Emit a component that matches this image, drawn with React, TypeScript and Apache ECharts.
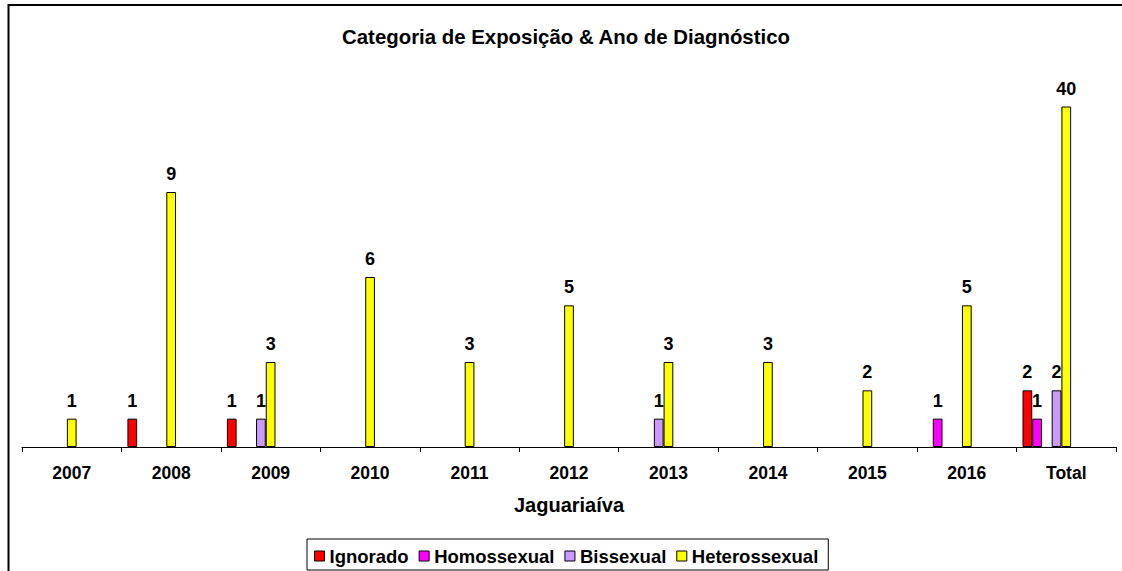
import React, { useEffect, useRef } from "react";
import * as echarts from "echarts";

const categories = ["2007", "2008", "2009", "2010", "2011", "2012", "2013", "2014", "2015", "2016", "Total"];
const ignorado = [null, 1, 1, null, null, null, null, null, null, null, 2];
const homossexual = [null, null, null, null, null, null, null, null, null, 1, 1];
const bissexual = [null, null, 1, null, null, null, 1, null, null, null, 2];
const heterossexual = [1, 9, 3, 6, 3, 5, 3, 3, 2, 5, 40];
const emptySlot = [null, null, null, null, null, null, null, null, null, null, null];

const FONT = 'Arial, "Liberation Sans", Helvetica, sans-serif';

export default function App() {
  const ref = useRef<HTMLDivElement>(null);
  useEffect(() => {
    if (!ref.current) return;
    const chart = echarts.init(ref.current, null, { renderer: "svg" });
    const bar = (name: string, data: (number | null)[], color: string, showLabel: boolean) => ({
      name,
      type: "bar",
      data,
      barGap: "0%",
      barCategoryGap: "12%",
      itemStyle: { color, borderColor: "#000", borderWidth: 1 },
      label: {
        show: showLabel,
        position: "top",
        distance: 9,
        color: "#000",
        fontWeight: "bold",
        fontSize: 18,
        fontFamily: FONT,
      },
      emphasis: { disabled: true },
    });
    chart.setOption({
      animation: false,
      backgroundColor: "#fff",
      title: {
        text: "Categoria de Exposição & Ano de Diagnóstico",
        left: 566,
        top: 27,
        padding: 0,
        textAlign: "center",
        textStyle: { fontFamily: FONT, fontWeight: "bold", fontSize: 20.4, color: "#000" },
      },
      legend: {
        data: ["Ignorado", "Homossexual", "Bissexual", "Heterossexual"],
        left: 307,
        top: 539,
        padding: [7.5, 10, 4.5, 7],
        itemWidth: 10,
        itemHeight: 10,
        itemGap: 10,
        icon: "rect",
        itemStyle: { borderColor: "#000", borderWidth: 1 },
        borderColor: "#000",
        borderWidth: 1,
        textStyle: { fontFamily: FONT, fontWeight: "bold", fontSize: 18.5, color: "#000" },
      },
      grid: { left: 22, right: 6, top: 107, bottom: 124, containLabel: false },
      xAxis: {
        type: "category",
        data: categories,
        boundaryGap: true,
        name: "Jaguariaíva",
        nameLocation: "middle",
        nameGap: 48,
        nameTextStyle: { fontFamily: FONT, fontWeight: "bold", fontSize: 20, color: "#000" },
        axisLine: { lineStyle: { color: "#000", width: 1 } },
        axisTick: { show: true, alignWithLabel: false, length: 5, lineStyle: { color: "#000" } },
        axisLabel: { margin: 17, fontFamily: FONT, fontWeight: "bold", fontSize: 17.5, color: "#000" },
        splitLine: { show: false },
      },
      yAxis: { type: "value", min: 0, max: 12, show: false, splitLine: { show: false } },
      series: [
        bar("Ignorado", ignorado, "#FF0000", true),
        bar("Homossexual", homossexual, "#FF00FF", true),
        bar("vazio1", emptySlot, "#FFFFFF", false),
        bar("Bissexual", bissexual, "#CC99FF", true),
        bar("Heterossexual", heterossexual, "#FFFF00", true),
        bar("vazio2", emptySlot, "#FFFFFF", false),
        bar("vazio3", emptySlot, "#FFFFFF", false),
        bar("vazio4", emptySlot, "#FFFFFF", false),
        bar("vazio5", emptySlot, "#FFFFFF", false),
      ],
      graphic: [
        { type: "line", shape: { x1: 8, y1: 5, x2: 1122, y2: 5 }, style: { stroke: "#000", lineWidth: 2 }, silent: true },
        { type: "line", shape: { x1: 8.5, y1: 4, x2: 8.5, y2: 571 }, style: { stroke: "#000", lineWidth: 2 }, silent: true },
      ],
    });
    return () => chart.dispose();
  }, []);
  return (
    <div
      ref={ref}
      style={{ position: "absolute", left: 0, top: 0, width: 1122, height: 571, background: "#fff" }}
    />
  );
}
